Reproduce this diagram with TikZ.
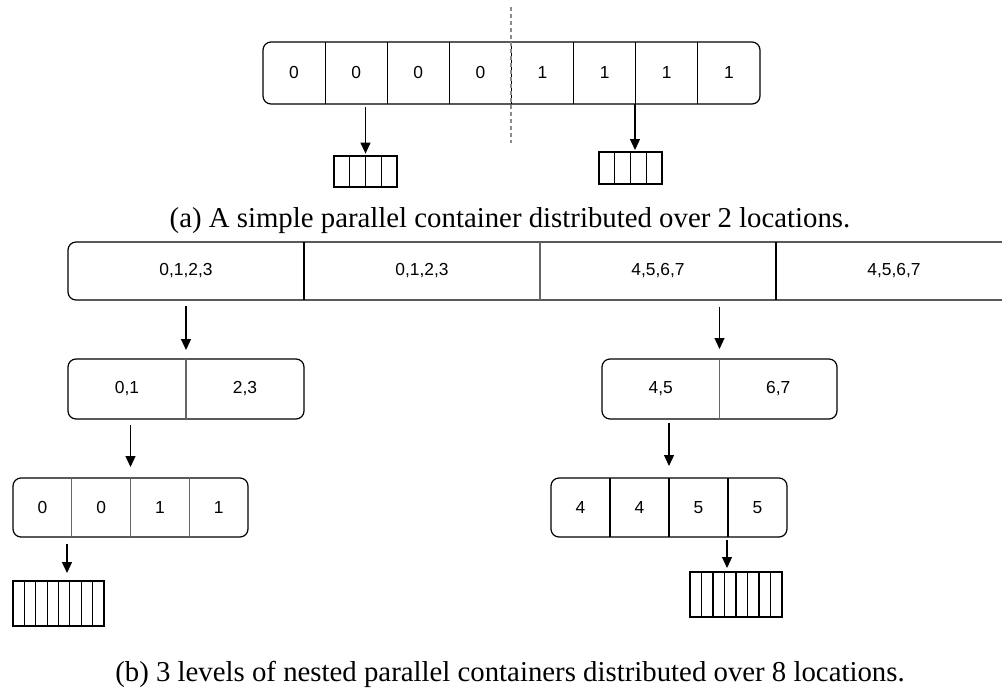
\documentclass[tikz,border=0pt]{standalone}
\usepackage{fontspec}
\setmainfont{Liberation Serif}
\setsansfont{Liberation Sans}
\usetikzlibrary{positioning, arrows.meta}
\tikzstyle{arrow} = [line width=0.6pt,-{Triangle[width=5pt,length=5.5pt]}]

\begin{document}
\begin{tikzpicture}[x=0.5pt,y=-0.5pt]
  \tikzstyle{every node}=[font=\sffamily\fontsize{8.7}{10}\selectfont]
  \tikzstyle{cellrow} = [draw, line width=0.6pt, rounded corners=4pt, outer sep=0pt, inner sep=0pt]
  \tikzstyle{slotbox} = [draw, line width=0.6pt, outer sep=0pt, inner sep=0pt]
  \tikzstyle{divider} = [line width=0.6pt]
  \tikzstyle{captext} = [font=\rmfamily\fontsize{14.4}{17}\selectfont, anchor=base, inner sep=0pt]
  \tikzstyle{cutline} = [black!45, line width=0.7pt, dash pattern=on 2pt off 1.5pt]

  \useasboundingbox (0,0) rectangle (1002,691);

  % (a) split over two locations
  \node[cellrow, minimum width=248.5pt, minimum height=31pt] (top) at (511.5,73) {};
  \foreach \v [count=\i] in {0,0,0,0,1,1,1,1}
    \node (t\i) at ([xshift=(\i-0.5)*31.0625pt]top.west) {\v};
  \foreach \i in {1,...,7}
    \draw[divider] ([xshift=\i*31.0625pt]top.north west) -- ([xshift=\i*31.0625pt]top.south west);

  \coordinate (cutA) at (511,7);
  \coordinate (cutB) at (511,143);
  \draw[cutline] (cutA) -- (cutB);

  \node[slotbox, minimum width=31.5pt, minimum height=15.5pt] (la) at (365.5,171.5) {};
  \node[slotbox, minimum width=31.5pt, minimum height=16pt] (lb) at (630.5,168) {};
  \foreach \n in {la,lb}
    \foreach \i in {1,2,3}
      \draw[divider] ([xshift=\i*7.875pt]\n.north west) -- ([xshift=\i*7.875pt]\n.south west);

  \draw[arrow, shorten <=1.5pt, shorten >=1.2pt] (top.south -| la.north) -- (la.north);
  \coordinate (lbin) at ([xshift=2.25pt]lb.north);
  \draw[arrow, shorten >=1pt] (top.south -| lbin) -- (lbin);

  \node[captext] (capa) at (510,227) {(a) A simple parallel container distributed over 2 locations.};

  % (b) three levels
  \node[cellrow, minimum width=472pt, minimum height=29pt] (big) at (540,271) {};
  \foreach \v [count=\i] in {{0,1,2,3},{0,1,2,3},{4,5,6,7},{4,5,6,7}}
    \node (b\i) at ([xshift=(\i-0.5)*118pt]big.west) {\v};
  \foreach \i/\c in {1/black,2/black!60,3/black}
    \draw[divider, \c] ([xshift=\i*118pt]big.north west) -- ([xshift=\i*118pt]big.south west);

  \node[cellrow, minimum width=118pt, minimum height=30pt] (ml) at (186,389) {};
  \node (ml1) at ([xshift=29.5pt]ml.west) {0,1};
  \node (ml2) at ([xshift=-29.5pt]ml.east) {2,3};
  \draw[divider, black!60] (ml.north) -- (ml.south);

  \node[cellrow, minimum width=117.5pt, minimum height=30pt] (mr) at (719.5,389) {};
  \node (mr1) at ([xshift=29.4pt]mr.west) {4,5};
  \node (mr2) at ([xshift=-29.4pt]mr.east) {6,7};
  \draw[divider, black!60] (mr.north) -- (mr.south);

  \draw[arrow, shorten <=3pt, shorten >=4.5pt] (big.south -| ml.north) -- (ml.north);
  \draw[arrow, shorten <=3.3pt, shorten >=5pt] (big.south -| mr.north) -- (mr.north);

  \node[cellrow, minimum width=117.5pt, minimum height=29.5pt] (bl) at (130.5,507.5) {};
  \foreach \v [count=\i] in {0,0,1,1}
    \node (bl\i) at ([xshift=(\i-0.5)*29.375pt]bl.west) {\v};
  \foreach \i in {1,2,3}
    \draw[divider, black!60] ([xshift=\i*29.375pt]bl.north west) -- ([xshift=\i*29.375pt]bl.south west);

  \node[cellrow, minimum width=118pt, minimum height=29.5pt] (br) at (669,507.5) {};
  \foreach \v [count=\i] in {4,4,5,5}
    \node (br\i) at ([xshift=(\i-0.5)*29.5pt]br.west) {\v};
  \foreach \i in {1,2,3}
    \draw[divider] ([xshift=\i*29.5pt]br.north west) -- ([xshift=\i*29.5pt]br.south west);

  \draw[arrow, shorten <=3pt, shorten >=5.5pt] (ml.south -| bl.north) -- (bl.north);
  \draw[arrow, shorten <=2pt, shorten >=6pt] (mr.south -| br.north) -- (br.north);

  \node[slotbox, minimum width=45.5pt, minimum height=22.5pt] (sl) at (58.5,603.5) {};
  \node[slotbox, minimum width=46pt, minimum height=22.5pt] (sr) at (736,594.5) {};
  \foreach \n/\w in {sl/5.6875pt,sr/5.75pt}
    \foreach \i in {1,...,7}
      \draw[divider] ([xshift=\i*\w]\n.north west) -- ([xshift=\i*\w]\n.south west);

  \coordinate (slin) at ([xshift=4.25pt]sl.north);
  \coordinate (srin) at ([xshift=-4.5pt]sr.north);
  \draw[arrow, shorten <=3.5pt, shorten >=4pt] (bl.south -| slin) -- (slin);
  \draw[arrow, shorten <=1.5pt, shorten >=2pt] (br.south -| srin) -- (srin);

  \node[captext] (capb) at (510,681) {(b) 3 levels of nested parallel containers distributed over 8 locations.};
\end{tikzpicture}
\end{document}
